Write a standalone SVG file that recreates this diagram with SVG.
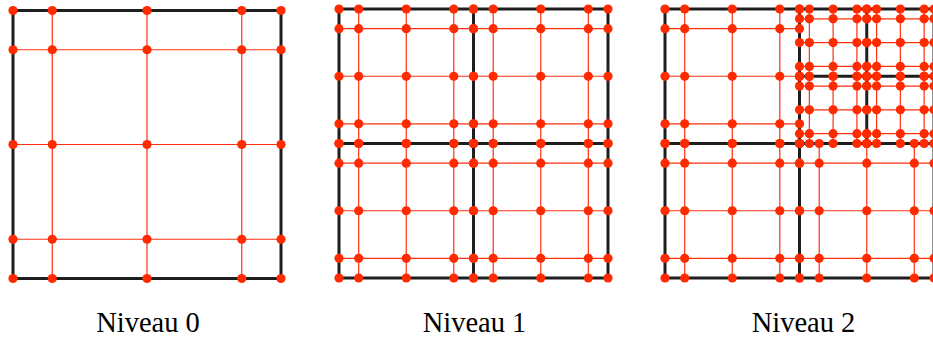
<svg xmlns="http://www.w3.org/2000/svg" width="933" height="338" viewBox="0 0 933 338">
<style>
.grid{fill:none;stroke:#ff3010;stroke-width:1.2}
.edge{fill:none;stroke:#1e1e1e;stroke-width:3}
.dots{fill:none;stroke:none;marker-start:url(#d);marker-mid:url(#d);marker-end:url(#d)}
.lbl{font-family:"Liberation Serif","Times New Roman",serif;font-size:28.5px;fill:#000;text-anchor:middle}
</style>
<defs>
<marker id="d" markerUnits="userSpaceOnUse" markerWidth="10" markerHeight="10" refX="5" refY="5" viewBox="0 0 10 10" overflow="visible">
<circle cx="5" cy="5" r="4.6" fill="#ff2a00"/>
</marker>
</defs>
<rect width="933" height="338" fill="#fff"/>

<g id="niveau0">
<path class="grid" d="M13 49.75H281M13 144.5H281M13 239.25H281M52.25 10.5V278.5M147 10.5V278.5M241.75 10.5V278.5"/>
<rect class="edge" x="13" y="10.5" width="268" height="268"/>
<g id="n0-e0">
<path class="dots" d="M13 10.5H52.25 147 241.75 281M13 49.75H52.25 147 241.75 281M13 144.5H52.25 147 241.75 281M13 239.25H52.25 147 241.75 281M13 278.5H52.25 147 241.75 281"/>
</g>
<text class="lbl" x="148" y="332">Niveau 0</text>
</g>

<g id="niveau1">
<path class="grid" d="M339 28.7H608M339 76.25H608M339 123.8H608M339 163.2H608M339 210.75H608M339 258.3H608M358.7 9V278M406.25 9V278M453.8 9V278M493.2 9V278M540.75 9V278M588.3 9V278"/>
<path class="edge" d="M339 9H608V278H339ZM473.5 9V278M339 143.5H608"/>
<g id="n1-e-tl"><path class="dots" d="M339 9H358.7 406.25 453.8 473.5M339 28.7H358.7 406.25 453.8 473.5M339 76.25H358.7 406.25 453.8 473.5M339 123.8H358.7 406.25 453.8 473.5M339 143.5H358.7 406.25 453.8 473.5"/></g>
<g id="n1-e-tr"><path class="dots" d="M473.5 9H493.2 540.75 588.3 608M473.5 28.7H493.2 540.75 588.3 608M473.5 76.25H493.2 540.75 588.3 608M473.5 123.8H493.2 540.75 588.3 608M473.5 143.5H493.2 540.75 588.3 608"/></g>
<g id="n1-e-bl"><path class="dots" d="M339 143.5H358.7 406.25 453.8 473.5M339 163.2H358.7 406.25 453.8 473.5M339 210.75H358.7 406.25 453.8 473.5M339 258.3H358.7 406.25 453.8 473.5M339 278H358.7 406.25 453.8 473.5"/></g>
<g id="n1-e-br"><path class="dots" d="M473.5 143.5H493.2 540.75 588.3 608M473.5 163.2H493.2 540.75 588.3 608M473.5 210.75H493.2 540.75 588.3 608M473.5 258.3H493.2 540.75 588.3 608M473.5 278H493.2 540.75 588.3 608"/></g>
<text class="lbl" x="474.5" y="332">Niveau 1</text>
</g>

<g id="niveau2">
<path class="grid" d="M665 28.7H799.5M665 76.25H799.5M665 123.8H799.5M665 163.2H934M665 210.75H934M665 258.3H934M684.7 9V278M732.25 9V278M779.8 9V278M819.2 143.5V278M866.75 143.5V278M914.3 143.5V278M799.5 18.85H934M799.5 42.6H934M799.5 66.4H934M799.5 86.1H934M799.5 109.85H934M799.5 133.65H934M809.35 9V143.5M833.1 9V143.5M856.9 9V143.5M876.6 9V143.5M900.35 9V143.5M924.15 9V143.5"/>
<path class="edge" d="M665 9H934V278H665ZM799.5 9V278M665 143.5H934M866.75 9V143.5M799.5 76.25H934"/>
<g id="n2-e-tl"><path class="dots" d="M665 9H684.7 732.25 779.8 799.5M665 28.7H684.7 732.25 779.8 799.5M665 76.25H684.7 732.25 779.8 799.5M665 123.8H684.7 732.25 779.8 799.5M665 143.5H684.7 732.25 779.8 799.5"/></g>
<g id="n2-e-bl"><path class="dots" d="M665 143.5H684.7 732.25 779.8 799.5M665 163.2H684.7 732.25 779.8 799.5M665 210.75H684.7 732.25 779.8 799.5M665 258.3H684.7 732.25 779.8 799.5M665 278H684.7 732.25 779.8 799.5"/></g>
<g id="n2-e-br"><path class="dots" d="M799.5 143.5H819.2 866.75 914.3 934M799.5 163.2H819.2 866.75 914.3 934M799.5 210.75H819.2 866.75 914.3 934M799.5 258.3H819.2 866.75 914.3 934M799.5 278H819.2 866.75 914.3 934"/></g>
<g id="n2-f-tl"><path class="dots" d="M799.5 9H809.35 833.1 856.9 866.75M799.5 18.85H809.35 833.1 856.9 866.75M799.5 42.6H809.35 833.1 856.9 866.75M799.5 66.4H809.35 833.1 856.9 866.75M799.5 76.25H809.35 833.1 856.9 866.75"/></g>
<g id="n2-f-tr"><path class="dots" d="M866.75 9H876.6 900.35 924.15 934M866.75 18.85H876.6 900.35 924.15 934M866.75 42.6H876.6 900.35 924.15 934M866.75 66.4H876.6 900.35 924.15 934M866.75 76.25H876.6 900.35 924.15 934"/></g>
<g id="n2-f-bl"><path class="dots" d="M799.5 76.25H809.35 833.1 856.9 866.75M799.5 86.1H809.35 833.1 856.9 866.75M799.5 109.85H809.35 833.1 856.9 866.75M799.5 133.65H809.35 833.1 856.9 866.75M799.5 143.5H809.35 833.1 856.9 866.75"/></g>
<g id="n2-f-br"><path class="dots" d="M866.75 76.25H876.6 900.35 924.15 934M866.75 86.1H876.6 900.35 924.15 934M866.75 109.85H876.6 900.35 924.15 934M866.75 133.65H876.6 900.35 924.15 934M866.75 143.5H876.6 900.35 924.15 934"/></g>
<text class="lbl" x="803.5" y="332">Niveau 2</text>
</g>
</svg>
